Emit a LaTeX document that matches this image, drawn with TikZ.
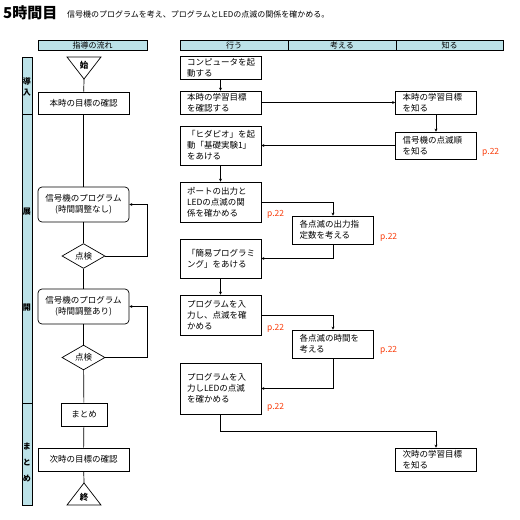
\documentclass[tikz,border=0pt]{standalone}
\usepackage{fontspec}
\setmainfont{Noto Sans CJK JP}
\usetikzlibrary{shapes.geometric, arrows.meta, positioning}
\definecolor{hdrcyan}{RGB}{188,226,232}
\definecolor{pagered}{RGB}{250,60,10}
\tikzset{
  hdr/.style={rectangle, draw=black, fill=hdrcyan, minimum height=10pt,
    inner sep=0pt, font=\fontsize{8}{9}\selectfont, line width=0.6pt},
  stagebar/.style={rectangle, draw=black, fill=hdrcyan, minimum width=10pt,
    inner sep=0pt, line width=0.6pt},
  stagetext/.style={align=center, inner sep=0pt,
    font=\fontsize{8}{11}\selectfont\bfseries},
  flowbox/.style={rectangle, draw=black, fill=white, minimum width=91pt,
    align=center, font=\fontsize{8.5}{11}\selectfont, line width=0.7pt,
    inner sep=2pt},
  progbox/.style={flowbox, rounded corners=4pt, minimum height=35pt},
  check/.style={diamond, draw=black, fill=white, minimum width=43pt,
    minimum height=22pt, inner sep=0pt, font=\fontsize{8.5}{11}\selectfont,
    line width=0.7pt},
  actbox/.style={rectangle, draw=black, fill=white, text width=67pt,
    inner xsep=7pt, inner ysep=2pt, align=left,
    font=\fontsize{8.5}{11}\selectfont, line width=0.7pt},
  pageno/.style={anchor=west, inner sep=0pt, text=pagered,
    font=\fontsize{8.5}{10}\selectfont},
  arrow/.style={-{Stealth[length=3pt,width=3pt]}, line width=0.7pt},
  line/.style={line width=0.7pt}
}
\begin{document}
\begin{tikzpicture}[x=1pt, y=-1pt]
  \useasboundingbox (0,0) rectangle (520,520);
  \fill[white] (0,0) rectangle (520,520);

  \node[anchor=west, inner sep=0pt, font=\fontsize{15}{15}\selectfont\bfseries] (title) at (3,13) {5時間目};
  \node[anchor=west, inner sep=0pt, font=\fontsize{8}{9}\selectfont] (goaltext) at (67,14)
    {信号機のプログラムを考え、プログラムとLEDの点滅の関係を確かめる。};

  \node[hdr, minimum width=109pt] (hguide) at (92.5,45) {指導の流れ};
  \node[hdr, minimum width=108pt] (hdo) at (234,45) {行う};
  \node[hdr, minimum width=108pt] (hthink) at (342,45) {考える};
  \node[hdr, minimum width=107pt] (hknow) at (449.5,45) {知る};

  \node[stagebar, minimum height=57pt] (sintro) at (27,85.5) {};
  \node[stagebar, minimum height=289pt] (sdev) at (27,258.5) {};
  \node[stagebar, minimum height=102pt] (ssum) at (27,454) {};
  \node[stagetext] (tintro) at (27,87) {導\\入};
  \node[stagetext] (tdev1) at (27,212) {展};
  \node[stagetext] (tdev2) at (27,308) {開};
  \node[stagetext, font=\fontsize{8}{16}\selectfont\bfseries] (tsum) at (27,462) {ま\\と\\め};

  \draw[line, fill=white] (67,57) -- (101,57) -- (84,79) -- cycle;
  \node[inner sep=0pt, font=\fontsize{8.5}{10}\selectfont\bfseries] (start) at (84,65) {始};
  \coordinate (starttip) at (84,79);
  \draw[line, fill=white] (84,483) -- (101,505) -- (67,505) -- cycle;
  \node[inner sep=0pt, font=\fontsize{8.5}{10}\selectfont\bfseries] (stop) at (84,497) {終};
  \coordinate (stoptip) at (84,483);

  \node[flowbox, minimum height=22pt] (goal) at (83.5,103) {本時の目標の確認};
  \node[progbox] (prog1) at (83.5,204.5) {信号機のプログラム\\(時間調整なし)};
  \node[check] (chk1) at (83.5,256) {点検};
  \node[progbox] (prog2) at (83.5,306.5) {信号機のプログラム\\(時間調整あり)};
  \node[check] (chk2) at (83.5,357.5) {点検};
  \node[flowbox, minimum width=46pt, minimum height=23pt] (summary) at (84,414.5) {まとめ};
  \node[flowbox, minimum height=23pt] (next) at (83.5,459.5) {次時の目標の確認};

  \draw[line] (starttip) -- (goal);
  \draw[line] (goal) -- (prog1);
  \draw[line] (prog1) -- (chk1);
  \draw[arrow] (chk1.east) -- ++(42,0) |- (prog1.east);
  \draw[line] (chk1) -- (prog2);
  \draw[line] (prog2) -- (chk2);
  \draw[arrow] (chk2.east) -- ++(42,0) |- (prog2.east);
  \draw[line] (chk2) -- (summary);
  \draw[line] (summary) -- (next);
  \draw[line] (next) -- (stoptip);

  \node[actbox, minimum height=22pt] (boot) at (220.5,68) {コンピュータを起\\動する};
  \node[actbox, minimum height=23pt] (aimdo) at (220.5,102.5) {本時の学習目標\\を確認する};
  \node[actbox, minimum height=23pt] (aimknow) at (436,102.5) {本時の学習目標\\を知る};
  \node[actbox, minimum height=39pt] (hida) at (220.5,145.5) {「ヒダピオ」を起\\動「基礎実験1」\\をあける};
  \node[actbox, minimum height=27pt] (order) at (436,145.5) {信号機の点滅順\\を知る};
  \node[actbox, minimum height=40pt] (port) at (220.5,202) {ポートの出力と\\LEDの点滅の関\\係を確かめる};
  \node[actbox, minimum height=28pt] (outnum) at (333,230) {各点滅の出力指\\定数を考える};
  \node[actbox, minimum height=39pt] (easy) at (220.5,258.5) {「簡易プログラミ\\ング」をあける};
  \node[actbox, minimum height=40pt] (input1) at (220.5,315) {プログラムを入\\力し、点滅を確\\かめる};
  \node[actbox, minimum height=28pt] (timing) at (333,344) {各点滅の時間を\\考える};
  \node[actbox, minimum height=51pt] (input2) at (220.5,388.5) {プログラムを入\\力しLEDの点滅\\を確かめる};
  \node[actbox, minimum height=23pt] (nextknow) at (436,459.5) {次時の学習目標\\を知る};

  \draw[arrow] (boot) -- (aimdo);
  \draw[arrow] (aimdo) -- (aimknow);
  \draw[arrow] (aimknow) -- (order);
  \draw[arrow] (order) -- (hida);
  \draw[arrow] (hida) -- (port);
  \draw[arrow] (port.east) -| (outnum.north);
  \draw[arrow] (outnum.south) |- (easy.east);
  \draw[arrow] (easy) -- (input1);
  \draw[arrow] (input1.east) -| (timing.north);
  \draw[arrow] (timing.south) |- (input2.east);
  \draw[arrow] (input2.south) -- ++(0,17) -| (nextknow.north);

  \node[pageno] (p1) at (482,152) {p.22};
  \node[pageno] (p2) at (267,214) {p.22};
  \node[pageno] (p3) at (380,237) {p.22};
  \node[pageno] (p4) at (267,328) {p.22};
  \node[pageno] (p5) at (380,350) {p.22};
  \node[pageno] (p6) at (267,407) {p.22};
\end{tikzpicture}
\end{document}
